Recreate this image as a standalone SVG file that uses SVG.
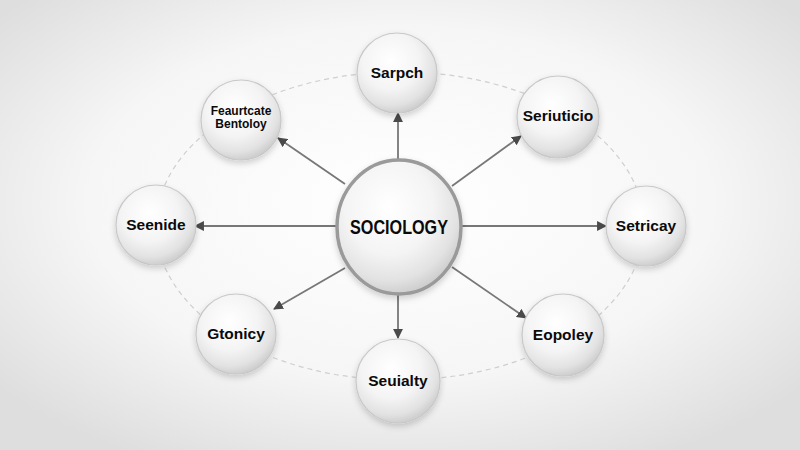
<svg xmlns="http://www.w3.org/2000/svg" width="800" height="450" viewBox="0 0 800 450">
<defs>
<radialGradient id="bg" cx="50%" cy="45%" r="65%">
<stop offset="0" stop-color="#ffffff"/>
<stop offset="0.6" stop-color="#f6f6f6"/>
<stop offset="1" stop-color="#dedede"/>
</radialGradient>
<radialGradient id="ball" cx="42%" cy="35%" r="65%">
<stop offset="0" stop-color="#ffffff"/>
<stop offset="0.55" stop-color="#f4f4f4"/>
<stop offset="0.85" stop-color="#e2e2e2"/>
<stop offset="1" stop-color="#cfcfcf"/>
</radialGradient>
<filter id="sh" x="-30%" y="-30%" width="160%" height="160%">
<feDropShadow dx="0" dy="3" stdDeviation="3" flood-color="#000" flood-opacity="0.18"/>
</filter>
<marker id="ah" viewBox="0 0 10 10" refX="9" refY="5" markerWidth="5.5" markerHeight="5.5" orient="auto" markerUnits="strokeWidth">
<path d="M0,0 L10,5 L0,10 z" fill="#4a4a4a"/>
</marker>
<style>
.node{fill:url(#ball);stroke:#c8c8c8;stroke-width:1.2;filter:url(#sh)}
.core{fill:url(#ball);stroke:#9a9a9a;stroke-width:3.5;filter:url(#sh)}
.lbl{font-family:"Liberation Sans",Arial,sans-serif;font-weight:bold;font-size:15.5px;fill:#0a0a0a;text-anchor:middle}
.small{font-size:12px}
.conn line{stroke:#777;stroke-width:1.8;marker-end:url(#ah)}
.ring{fill:none;stroke:#cfcfcf;stroke-width:1.2;stroke-dasharray:5 4}
</style>
</defs>
<rect width="800" height="450" fill="url(#bg)"/>
<ellipse class="ring" cx="400" cy="226" rx="244" ry="154"/>
<g id="connectors" class="conn">
<line x1="398" y1="160" x2="398" y2="113"/>
<line x1="452" y1="186" x2="521" y2="136"/>
<line x1="462" y1="226" x2="606" y2="226"/>
<line x1="338" y1="226" x2="195" y2="226"/>
<line x1="345" y1="184" x2="278" y2="138"/>
<line x1="345" y1="268" x2="274" y2="309"/>
<line x1="398" y1="294" x2="398" y2="338"/>
<line x1="452" y1="267" x2="526" y2="318"/>
</g>
<g id="n-sarpch"><circle class="node" cx="397" cy="73" r="40"/><text class="lbl" x="397" y="78">Sarpch</text></g>
<g id="n-seriuticio"><circle class="node" cx="558" cy="117" r="41"/><text class="lbl" x="558" y="121">Seriuticio</text></g>
<g id="n-feaurtcate"><circle class="node" cx="241" cy="120" r="40"/><text class="lbl small" x="241" y="115">Feaurtcate</text><text class="lbl small" x="241" y="128">Bentoloy</text></g>
<g id="n-seenide"><circle class="node" cx="156" cy="225" r="40"/><text class="lbl" x="156" y="230">Seenide</text></g>
<g id="n-setricay"><circle class="node" cx="646" cy="226" r="40"/><text class="lbl" x="646" y="231">Setricay</text></g>
<g id="n-gtonicy"><circle class="node" cx="236" cy="334" r="40"/><text class="lbl" x="236" y="339">Gtonicy</text></g>
<g id="n-seuialty"><circle class="node" cx="398" cy="381" r="42"/><text class="lbl" x="398" y="386">Seuialty</text></g>
<g id="n-eopoley"><circle class="node" cx="563" cy="335" r="41"/><text class="lbl" x="563" y="340">Eopoley</text></g>
<g id="n-sociology"><ellipse class="core" cx="399" cy="227" rx="62" ry="67"/><text class="lbl" x="399" y="234" style="font-size:20px" textLength="98" lengthAdjust="spacingAndGlyphs">SOCIOLOGY</text></g>
</svg>
